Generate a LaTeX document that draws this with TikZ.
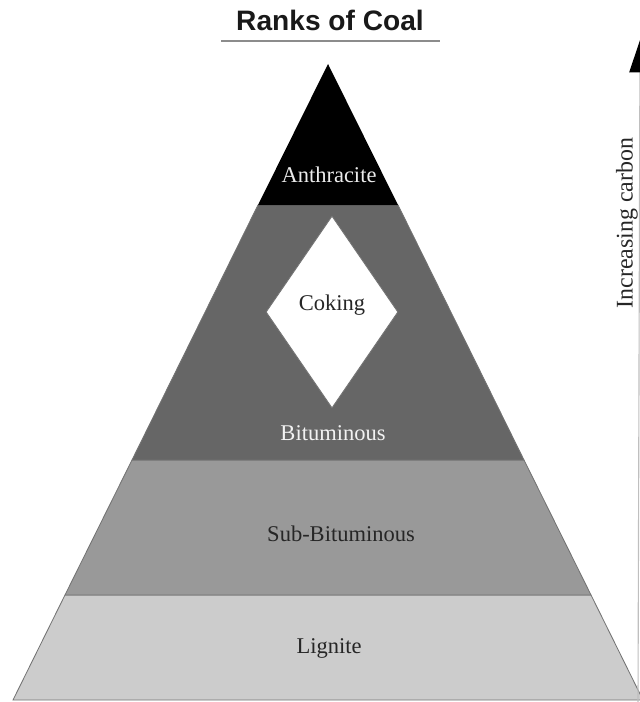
\documentclass[tikz,border=0pt]{standalone}
\usepackage{fontspec}
\setmainfont{Liberation Serif}
\setsansfont{Liberation Sans}
\usetikzlibrary{shapes.geometric,arrows.meta}

\begin{document}
\begin{tikzpicture}[
    x=0.025cm, y=-0.025cm,
    rank/.style={draw=black!55, line width=0.6pt},
    ranklabel/.style={font=\fontsize{16}{18}\selectfont, inner sep=1pt},
    coalhead/.style={font=\sffamily\bfseries\fontsize{20}{23}\selectfont}
]
\useasboundingbox (0,0) rectangle (639,702);

% Title with rule below
\node[coalhead, text=black!90] (title) at (330,20) {Ranks of Coal};
\draw[black!45, line width=1.3pt] (221,41) -- (440,41);

% Bands, bottom to top
\draw[rank, fill=black!20] (13,700) -- (643,700) -- (591,595) -- (65,595) -- cycle;
\draw[rank, fill=black!40] (65,595) -- (591,595) -- (524,460) -- (132,460) -- cycle;
\draw[rank, fill=black!60] (132,460) -- (524,460) -- (398,205) -- (258,205) -- cycle;
\fill[black] (258,205) -- (398,205) -- (328,64) -- cycle;

% Coking window inside the bituminous band
\node[diamond, fill=white, draw=black!55, line width=0.6pt, inner sep=0pt,
      minimum width=3.3cm, minimum height=4.8cm] (coking) at (332,312) {};

% Rank names
\node[ranklabel, text=black!8] (anthracite) at (329,175) {Anthracite};
\node[ranklabel, text=black!85] (cokinglbl) at (332,305) {Coking};
\node[ranklabel, text=black!5] (bituminous) at (333,433) {Bituminous};
\node[ranklabel, text=black!85] (subbit) at (341,534) {Sub-Bituminous};
\node[ranklabel, text=black!85] (lignite) at (329,648) {Lignite};

% Carbon arrow at the right edge
\coordinate (carbonbase) at (638,702);
\coordinate (carbontip) at (640,40);
\draw[black!25, line width=0.8pt, -{Triangle[color=black, width=15pt, length=23pt]}] (carbonbase) -- (carbontip);
\node[ranklabel, rotate=90, text=black!85, font=\fontsize{17}{19}\selectfont] (carbon) at (627,223) {Increasing carbon};

\end{tikzpicture}
\end{document}
